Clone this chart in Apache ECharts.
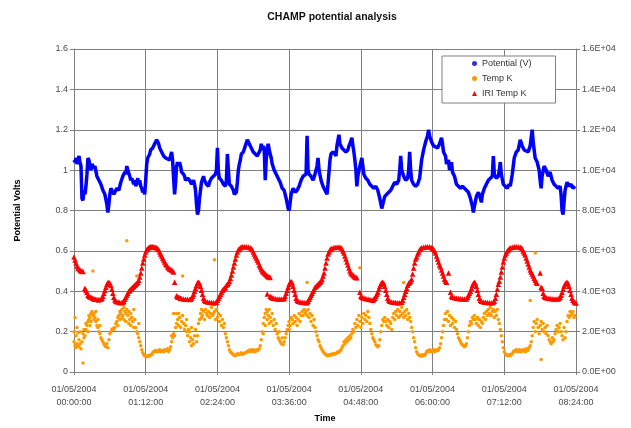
<!DOCTYPE html>
<html>
<head>
<meta charset="utf-8">
<script src="https://cdn.jsdelivr.net/npm/echarts@6/dist/echarts.min.js"></script>
<style>
html,body{margin:0;padding:0;background:#fff;}
#chart{width:631px;height:428px;}
</style>
</head>
<body>
<div id="chart"></div>
<script>
// ---- data (time in minutes from 01/05/2004 00:00:00) ----
var xTickLabels = ['01/05/2004\n00:00:00','01/05/2004\n01:12:00','01/05/2004\n02:24:00','01/05/2004\n03:36:00','01/05/2004\n04:48:00','01/05/2004\n06:00:00','01/05/2004\n07:12:00','01/05/2004\n08:24:00'];
var leftTickLabels = ['0','0.2','0.4','0.6','0.8','1','1.2','1.4','1.6'];
var rightTickLabels = ['0.0E+00','2.0E+03','4.0E+03','6.0E+03','8.0E+03','1.0E+04','1.2E+04','1.4E+04','1.6E+04'];
var seriesNames = ['Potential (V)','Temp K','IRI Temp K'];

var potentialV = [
[0,1.05],[1,1.04],[2,1.06],[3,1.03],[4,1.05],[5,1.07],[6,1.04],[7,1.02],[8,0.86],[9,0.85],[10,0.90],[11,0.88],[12,0.92],[13,0.98],[14,1.06],[15,1.05],[16,1.02],[17,1.00],[18,1.03],[19,1.02],[20,1.01],[21,1.02],[23,0.97],[25,0.95],[27,0.93],[29,0.90],[31,0.88],[33,0.83],[34,0.79],[35,0.83],[36,0.88],[37,0.91],[38,0.90],[40,0.88],[41,0.89],[43,0.91],[45,0.90],[47,0.94],[49,0.97],[51,0.99],[52,0.98],[53,1.02],[54,1.00],[56,0.97],[57,0.95],[58,0.96],[60,0.93],[61,0.95],[62,0.92],[64,0.96],[65,0.93],[66,0.95],[67,0.92],[68,0.91],[69,0.89],[70,0.90],[71,0.88],[72,0.95],[73,1.03],[74,1.06],[76,1.08],[77,1.10],[79,1.11],[81,1.13],[83,1.15],[85,1.13],[86,1.11],[88,1.09],[90,1.07],[92,1.06],[94,1.06],[96,1.05],[97,1.07],[98,1.09],[99,1.05],[100,0.96],[101,0.88],[102,0.94],[103,1.02],[104,1.04],[105,1.02],[106,1.04],[107,1.02],[108,0.99],[110,0.98],[111,0.97],[112,0.95],[114,0.96],[116,0.95],[118,0.93],[120,0.95],[121,0.93],[122,0.90],[123,0.83],[124,0.78],[125,0.80],[126,0.86],[127,0.90],[128,0.94],[130,0.97],[131,0.95],[133,0.93],[135,0.92],[136,0.94],[138,0.96],[140,0.96],[142,0.98],[143,1.00],[144,1.11],[145,0.99],[146,0.96],[148,0.95],[150,0.93],[152,0.92],[153,0.95],[154,1.08],[155,1.00],[156,0.93],[158,0.92],[160,0.90],[161,0.88],[163,0.89],[164,0.94],[165,1.00],[166,1.03],[167,1.05],[168,1.08],[170,1.09],[172,1.12],[174,1.15],[176,1.13],[178,1.11],[180,1.09],[182,1.08],[184,1.07],[186,1.07],[187,1.10],[188,1.13],[189,1.10],[190,1.12],[191,1.10],[192,0.95],[193,1.05],[194,1.11],[195,1.13],[196,1.10],[197,1.08],[198,1.06],[199,1.03],[201,1.00],[203,0.98],[205,0.96],[207,0.94],[209,0.91],[211,0.90],[213,0.86],[215,0.81],[216,0.80],[217,0.84],[218,0.88],[220,0.91],[222,0.89],[224,0.90],[226,0.92],[228,0.95],[230,0.97],[232,0.97],[233,0.98],[234,1.17],[235,1.00],[236,0.98],[238,0.97],[240,0.95],[242,0.98],[244,1.02],[245,1.06],[246,1.00],[248,0.95],[250,0.92],[252,0.90],[253,0.89],[254,0.88],[255,0.93],[256,0.99],[257,1.05],[258,1.08],[260,1.09],[262,1.08],[263,1.07],[264,1.12],[266,1.175],[267,1.13],[269,1.11],[271,1.10],[273,1.09],[275,1.10],[276,1.12],[277,1.13],[279,1.16],[280,1.12],[281,1.09],[282,1.05],[283,1.00],[284,0.92],[285,0.97],[287,1.02],[289,1.06],[290,1.02],[291,0.98],[293,0.96],[295,0.95],[297,0.93],[299,0.92],[301,0.91],[303,0.92],[305,0.90],[307,0.86],[309,0.81],[310,0.83],[312,0.87],[314,0.88],[316,0.89],[318,0.90],[320,0.92],[322,0.94],[324,0.93],[326,0.95],[327,1.00],[328,1.07],[329,1.00],[331,0.97],[333,0.95],[335,0.96],[336,1.00],[337,1.09],[338,1.00],[339,0.95],[341,0.93],[343,0.92],[345,0.93],[347,0.96],[349,1.05],[351,1.10],[353,1.14],[355,1.17],[356,1.20],[357,1.17],[359,1.14],[361,1.12],[363,1.12],[365,1.11],[367,1.13],[369,1.16],[370,1.13],[371,1.09],[373,1.07],[374,1.03],[376,1.05],[377,1.00],[379,1.04],[380,0.99],[382,0.97],[384,0.93],[386,0.92],[388,0.91],[390,0.92],[392,0.91],[394,0.90],[396,0.89],[398,0.86],[400,0.82],[401,0.79],[402,0.82],[404,0.87],[406,0.89],[408,0.86],[409,0.84],[410,0.88],[412,0.91],[414,0.93],[416,0.95],[418,0.95],[420,0.97],[421,1.07],[422,0.98],[424,0.96],[426,0.97],[427,1.00],[428,1.04],[429,0.98],[431,0.93],[433,0.92],[435,0.91],[437,0.93],[438,0.92],[440,0.98],[442,1.06],[444,1.09],[446,1.10],[448,1.15],[450,1.12],[452,1.10],[454,1.10],[456,1.09],[458,1.12],[460,1.20],[461,1.14],[462,1.10],[463,1.06],[465,1.04],[467,1.00],[468,0.95],[469,0.91],[470,0.97],[472,1.02],[474,1.00],[476,0.97],[478,0.99],[480,0.95],[482,0.93],[484,0.92],[486,0.91],[488,0.92],[489,0.88],[490,0.80],[491,0.78],[492,0.84],[493,0.90],[495,0.94],[497,0.92],[499,0.93],[501,0.91],[503,0.92]
];

var tempK = [
[0,1500],[0,2000],[1,1300],[1,2700],[2,1200],[2,1800],[3,1400],[3,2200],[4,1300],[4,1950],[5,1250],[5,1600],[6,1400],[6,2000],[7,1150],[8,1500],[9,440],[9,1900],[10,1700],[10,2100],[11,1800],[12,2100],[12,2400],[13,2300],[14,2500],[14,2000],[15,2600],[15,2800],[16,2700],[16,2300],[17,2900],[17,2500],[18,3000],[19,2800],[19,5000],[20,2900],[20,2600],[21,2700],[22,2500],[22,3000],[23,2300],[24,2200],[24,2600],[25,2000],[26,1900],[26,2300],[27,1700],[28,1600],[29,1500],[30,1400],[31,1300],[32,1250],[33,1400],[34,1200],[35,1600],[36,1900],[37,2000],[38,2100],[39,2150],[40,2100],[41,2200],[42,2400],[43,2500],[44,2700],[44,2300],[45,2800],[46,2600],[46,3000],[47,2900],[48,3100],[48,2700],[49,2800],[50,3200],[50,2600],[51,3000],[52,2900],[52,2500],[53,6500],[53,3100],[54,2800],[55,2400],[55,3000],[56,2600],[57,2900],[57,2300],[58,2700],[59,2500],[60,3100],[60,2200],[61,2600],[62,2200],[63,4750],[63,2000],[64,1900],[65,1700],[65,2400],[66,1500],[67,1300],[68,1100],[69,950],[70,850],[71,800],[72,780],[73,760],[74,800],[75,820],[76,780],[77,850],[78,880],[79,950],[80,1000],[81,1050],[82,1000],[83,1050],[84,1000],[85,1050],[86,1100],[87,1000],[88,1050],[89,1050],[90,1000],[91,1100],[92,1050],[93,1100],[94,1150],[95,1000],[96,1100],[97,1250],[98,1500],[98,1800],[99,1700],[100,1900],[100,2900],[101,1800],[102,2200],[103,2400],[103,2900],[104,2600],[105,2300],[105,2900],[106,2700],[107,2200],[108,2500],[109,4750],[109,2800],[110,2400],[111,2100],[112,2300],[113,2000],[113,2600],[114,1800],[115,2100],[116,1500],[116,2000],[117,1700],[118,1300],[118,2200],[119,1600],[120,1400],[121,1800],[122,2100],[123,1500],[124,1800],[125,2400],[126,2600],[127,2900],[128,2700],[128,3100],[129,2800],[130,3000],[131,2600],[132,3100],[133,2900],[134,2800],[135,3000],[136,2700],[137,2900],[138,3200],[139,2800],[140,2900],[141,5560],[141,3000],[142,2600],[143,3100],[144,2700],[145,2900],[146,2500],[147,2800],[148,2300],[149,2600],[150,2200],[151,2400],[152,1900],[153,1700],[154,1500],[155,1300],[156,1100],[157,1000],[158,950],[159,900],[160,850],[161,820],[162,800],[163,850],[164,900],[165,880],[166,850],[167,900],[168,950],[169,880],[170,900],[171,920],[172,950],[173,980],[174,1000],[175,1050],[176,1000],[177,1100],[178,1050],[179,1000],[180,1100],[181,1050],[182,1000],[183,1100],[184,1050],[185,1100],[186,1150],[187,1300],[188,1600],[189,2000],[190,2400],[190,1900],[191,2700],[192,2300],[192,2900],[193,3100],[194,2600],[194,3000],[195,2800],[196,2400],[196,3100],[197,2700],[198,2500],[199,2900],[200,2300],[201,2600],[202,2100],[203,2400],[204,1900],[205,1700],[206,1600],[206,2000],[207,1500],[208,1400],[209,1700],[210,1350],[211,1500],[212,1700],[213,1900],[214,2100],[215,2300],[216,2500],[216,2100],[217,2300],[218,2700],[219,2600],[220,2400],[221,2800],[222,2500],[223,2700],[224,2300],[225,2600],[226,2900],[227,2500],[228,2800],[229,3000],[230,2800],[231,3100],[232,2900],[233,3000],[234,4430],[234,2800],[235,3100],[236,2700],[237,2900],[238,2500],[239,2800],[240,2300],[241,2600],[242,2200],[243,2000],[244,1800],[245,1600],[246,1500],[247,1300],[248,1200],[249,1100],[250,1000],[251,950],[252,900],[253,850],[254,820],[255,800],[256,850],[257,820],[258,880],[259,850],[260,900],[261,870],[262,920],[263,900],[264,950],[265,1000],[266,980],[267,1050],[268,1100],[269,1200],[270,1300],[271,1500],[272,1400],[273,1600],[274,1500],[275,1700],[276,1600],[277,1800],[278,1700],[279,1900],[280,2100],[281,2000],[282,2400],[283,2200],[284,2600],[285,2300],[286,2800],[287,5160],[287,2500],[288,2200],[289,2700],[290,2400],[291,2900],[292,2600],[293,2800],[294,2500],[295,3000],[296,2700],[297,2400],[298,2100],[299,1900],[300,1700],[301,1600],[302,1500],[303,1350],[304,1300],[305,1250],[306,1300],[307,1600],[308,2000],[309,2300],[310,2600],[311,2500],[312,2700],[313,2500],[314,2300],[315,2600],[316,2200],[317,2500],[318,2400],[319,2100],[320,2700],[321,2900],[322,2600],[323,3000],[324,2800],[325,3100],[326,2700],[327,3000],[328,2800],[329,3200],[330,2900],[331,4430],[331,2700],[332,3000],[333,2800],[334,3100],[335,2600],[336,2900],[337,2700],[338,2500],[339,2200],[340,2000],[341,1700],[342,1500],[343,1200],[344,1000],[345,900],[346,850],[347,800],[348,820],[349,780],[350,850],[351,800],[352,830],[353,900],[354,1000],[355,1050],[356,1000],[357,1100],[358,1050],[359,1000],[360,1050],[361,1100],[362,1000],[363,1050],[364,1100],[365,1050],[366,1100],[367,1200],[368,1400],[369,1700],[370,2000],[371,2300],[372,2600],[373,2900],[374,2600],[375,3000],[376,2500],[377,2800],[378,2300],[379,2700],[380,2400],[381,2600],[382,2200],[383,2500],[384,2100],[385,1900],[386,1700],[387,1600],[388,1500],[389,1400],[390,1350],[391,1300],[392,1250],[393,1300],[394,1400],[395,1700],[396,2000],[397,2300],[398,2500],[399,2400],[400,2700],[401,2600],[402,2800],[403,2600],[404,2400],[405,2700],[406,2300],[407,2600],[408,2200],[409,2500],[410,2400],[411,2700],[412,2900],[413,2600],[414,3000],[415,2800],[416,3100],[417,2900],[418,3200],[419,2800],[420,3000],[421,3100],[422,2700],[423,3000],[424,2800],[425,3100],[426,2600],[427,2400],[428,2100],[429,1800],[430,1500],[431,1200],[432,1000],[433,900],[434,850],[435,800],[436,820],[437,850],[438,800],[439,880],[440,900],[441,1000],[442,1050],[443,1000],[444,1100],[445,1050],[446,1000],[447,1100],[448,1050],[449,1000],[450,1100],[451,1050],[452,1100],[453,1000],[454,1150],[455,1050],[456,1100],[457,1200],[458,3540],[458,1300],[459,1500],[460,1800],[461,2200],[462,2500],[463,5900],[463,2000],[464,2400],[465,2600],[466,2200],[467,1900],[468,2300],[469,620],[469,2500],[470,2100],[471,2400],[472,2000],[473,2200],[474,1900],[475,2300],[476,1800],[477,1600],[478,1500],[479,1400],[480,1700],[481,1500],[482,1600],[483,1900],[484,2100],[485,2300],[486,2000],[487,2200],[488,2400],[489,2000],[490,1800],[491,1600],[492,2200],[493,1700],[494,2000],[495,2500],[496,2800],[497,2700],[498,3000],[499,2800],[500,2900],[501,3000],[502,2700],[503,2800]
];

var iriTempK = [
[0,5700],[1,5550],[2,5400],[3,5250],[4,5150],[5,5100],[6,5050],[7,5000],[8,5000],[9,4980],
[11,4150],[12,4050],[13,3950],[14,3800],[15,3750],[16,3720],[17,3700],[18,3680],[19,3650],[20,3620],[21,3600],[22,3600],[24,3580],[25,3580],[27,3600],[28,3650],[29,3750],[30,3900],[31,4050],[32,4200],[33,4350],[34,4420],[35,4450],[36,4400],[37,4280],[38,4100],[39,3900],[40,3700],[41,3580],[42,3500],[43,3480],[45,3450],[46,3440],[48,3430],[49,3450],[50,3500],[51,3600],[52,3700],[53,3800],[54,3900],[55,4000],[56,4050],[57,4100],[58,4150],[59,4200],[60,4250],[61,4300],[62,4350],[63,4400],[64,4450],[65,4550],[66,4700],[67,4900],[68,5150],[69,5400],[70,5600],[71,5800],[72,5950],[73,6050],[74,6100],[75,6150],[76,6180],[77,6200],[78,6200],[79,6200],[80,6190],[81,6180],[82,6170],[83,6150],[84,6100],[85,6050],[86,5950],[87,5850],[88,5750],[89,5650],[90,5550],[91,5450],[92,5350],[93,5300],[94,5200],[95,5150],[96,5100],[97,5080],[98,5050],[99,5000],[100,4950],
[101,4450],
[103,3780],[104,3720],[105,3700],[106,3680],[107,3650],[108,3640],[110,3620],[112,3600],[114,3600],[116,3590],[117,3600],[118,3650],[119,3750],[120,3850],[121,4000],[122,4150],[123,4300],[124,4420],[125,4450],[126,4400],[127,4250],[128,4050],[129,3850],[130,3650],[131,3550],[132,3500],[134,3470],[136,3450],[138,3440],[140,3430],[142,3430],[143,3450],[144,3550],[145,3650],[146,3750],[147,3850],[148,3950],[149,4050],[150,4100],[151,4150],[152,4200],[153,4300],[154,4350],[155,4400],[156,4500],[157,4650],[158,4800],[159,5000],[160,5200],[161,5400],[162,5600],[163,5800],[164,5950],[165,6050],[166,6100],[167,6150],[168,6180],[169,6200],[171,6210],[173,6200],[175,6190],[177,6150],[178,6100],[179,6050],[180,5950],[181,5850],[182,5750],[183,5650],[184,5550],[185,5450],[186,5300],[187,5200],[188,5100],[189,5000],[190,4950],[191,4900],[192,4850],[193,4800],[194,4750],[195,4720],[196,4700],[197,4680],
[194,3860],
[197,3750],[198,3700],[199,3680],[200,3650],[202,3640],[204,3620],[206,3620],[208,3610],[210,3620],[211,3650],[212,3750],[213,3900],[214,4050],[215,4200],[216,4350],[217,4450],[218,4480],[219,4420],[220,4250],[221,4050],[222,3850],[223,3650],[224,3550],[225,3500],[227,3470],[229,3450],[231,3440],[233,3430],[234,3440],[235,3500],[236,3600],[237,3700],[238,3800],[239,3900],[240,4000],[241,4100],[242,4200],[243,4250],[244,4300],[245,4350],[246,4400],[247,4450],[248,4500],[249,4600],[250,4750],[251,4900],[252,5150],[253,5400],[254,5650],[255,5850],[256,5950],[257,6050],[258,6100],[259,6130],[261,6170],[263,6180],[265,6190],[267,6180],[268,6150],[269,6100],[270,6000],[271,5900],[272,5750],[273,5600],[274,5450],[275,5300],[276,5150],[277,5000],[278,4900],[279,4850],[280,4800],[281,4750],[282,4700],[283,4680],[284,4670],
[287,3950],
[288,3750],[289,3700],[290,3680],[292,3650],[294,3620],[296,3600],[298,3580],[300,3560],[301,3600],[302,3650],[303,3750],[304,3850],[305,3950],[306,4100],[307,4250],[308,4350],[309,4420],[310,4450],[311,4400],[312,4250],[313,4050],[314,3850],[315,3650],[316,3550],[317,3500],[319,3470],[321,3450],[323,3440],[325,3430],[327,3430],[329,3450],[330,3550],[331,3700],[332,3850],[333,4000],[334,4150],[335,4300],[336,4400],[337,4450],[338,4500],[339,4600],[340,4850],[341,5150],[342,5400],[343,5600],[344,5700],[345,5850],[346,5950],[347,6050],[348,6100],[349,6150],[351,6180],[353,6200],[355,6210],[357,6200],[359,6170],[360,6130],[361,6080],[362,6000],[363,5900],[364,5750],[365,5600],[366,5450],[367,5300],[368,5200],[369,5050],[370,4900],[371,4750],[372,4600],[373,4500],[374,4450],
[376,4900],
[378,3950],[379,3750],[380,3700],[382,3680],[384,3650],[386,3640],[388,3630],[390,3620],[392,3620],[394,3620],[395,3700],[396,3800],[397,3900],[398,4000],[399,4150],[400,4300],[401,4400],[402,4450],[403,4400],[404,4250],[405,4050],[406,3850],[407,3650],[408,3550],[409,3500],[411,3470],[413,3450],[415,3440],[417,3430],[419,3430],[421,3440],[422,3500],[423,3650],[424,3850],[425,4100],[426,4350],[427,4500],[428,4700],[429,4950],[430,5200],[431,5450],[432,5650],[433,5800],[434,5900],[435,6000],[436,6050],[437,6100],[438,6150],[440,6180],[442,6200],[444,6210],[446,6200],[448,6180],[449,6150],[450,6100],[451,6000],[452,5900],[453,5800],[454,5650],[455,5500],[456,5350],[457,5200],[458,5050],[459,4950],[460,4850],[461,4750],[462,4650],[463,4550],[464,4450],[465,4400],
[468,4900],
[469,4200],[470,4150],[471,3900],[472,3750],[473,3700],[474,3680],[476,3650],[478,3640],[480,3630],[482,3620],[484,3620],[486,3620],[487,3650],[488,3700],[489,3800],[490,3950],[491,4100],[492,4250],[493,4350],[494,4420],[495,4450],[496,4400],[497,4250],[498,4050],[499,3850],[500,3650],[501,3550],[502,3480],[503,3440],[504,3420]
];

var chart = echarts.init(document.getElementById('chart'), null, {renderer:'canvas'});
var FONT = 'Liberation Sans, Arial, sans-serif';
var labelColor = '#4a4a4a';
var gridColor = '#7f7f7f';

var option = {
  backgroundColor: '#ffffff',
  animation: false,
  title: {
    text: 'CHAMP potential analysis',
    left: 327, top: 7, textAlign: 'center',
    textStyle: {fontFamily: FONT, fontSize: 10.5, fontWeight: 'bold', color: '#111'}
  },
  legend: {
    orient: 'vertical',
    left: 442, top: 56,
    padding: [3, 24, 5, 30],
    itemGap: 6,
    itemWidth: 5, itemHeight: 5,
    itemTextGap: 3,
    backgroundColor: '#ffffff',
    borderColor: '#808080', borderWidth: 1,
    textStyle: {fontFamily: FONT, fontSize: 9, color: '#333'},
    data: [
      {name: seriesNames[0], icon: 'circle', itemStyle: {color: '#3333cc'}},
      {name: seriesNames[1], icon: 'circle', itemStyle: {color: '#ff9900'}},
      {name: seriesNames[2], icon: 'triangle', itemStyle: {color: '#ff0000'}}
    ]
  },
  grid: {left: 74, right: 55, top: 49, bottom: 51, containLabel: false},
  xAxis: {
    type: 'value', min: 0, max: 504, interval: 72,
    name: 'Time', nameLocation: 'middle', nameGap: 42,
    nameTextStyle: {fontFamily: FONT, fontSize: 9, fontWeight: 'bold', color: '#000'},
    axisLine: {show: true, lineStyle: {color: gridColor, width: 1}},
    axisTick: {show: true, length: 3, lineStyle: {color: gridColor}},
    axisLabel: {
      fontFamily: FONT, fontSize: 9, color: labelColor, margin: 11, lineHeight: 13,
      formatter: function (v) { return xTickLabels[Math.round(v / 72)]; }
    },
    splitLine: {show: true, lineStyle: {color: gridColor, width: 1}}
  },
  yAxis: [
    {
      type: 'value', min: 0, max: 1.6, interval: 0.2,
      name: 'Potential Volts', nameLocation: 'middle', nameGap: 52, nameRotate: 90,
      nameTextStyle: {fontFamily: FONT, fontSize: 9, fontWeight: 'bold', color: '#000'},
      axisLine: {show: true, lineStyle: {color: gridColor, width: 1}},
      axisTick: {show: true, length: 4, lineStyle: {color: gridColor}},
      axisLabel: {
        fontFamily: FONT, fontSize: 9, color: labelColor, margin: 6,
        formatter: function (v) { return leftTickLabels[Math.round(v / 0.2)]; }
      },
      splitLine: {show: true, lineStyle: {color: gridColor, width: 1}}
    },
    {
      type: 'value', min: 0, max: 16000, interval: 2000, position: 'right',
      axisLine: {show: true, lineStyle: {color: gridColor, width: 1}},
      axisTick: {show: true, length: 4, lineStyle: {color: gridColor}},
      axisLabel: {
        fontFamily: FONT, fontSize: 9, color: labelColor, margin: 6,
        formatter: function (v) { return rightTickLabels[Math.round(v / 2000)]; }
      },
      splitLine: {show: false}
    }
  ],
  series: [
    {
      name: seriesNames[1], type: 'scatter', yAxisIndex: 1,
      symbol: 'circle', symbolSize: 3.5,
      itemStyle: {color: '#ff9900', opacity: 1},
      data: tempK, z: 2
    },
    {
      name: seriesNames[2], type: 'scatter', yAxisIndex: 1,
      symbol: 'triangle', symbolSize: 5.5,
      itemStyle: {color: '#ff0000', opacity: 1},
      data: iriTempK, z: 3
    },
    {
      name: seriesNames[0], type: 'line', yAxisIndex: 0,
      showSymbol: false, symbol: 'circle',
      lineStyle: {color: '#0000ff', width: 3.5},
      itemStyle: {color: '#0000ff'},
      data: potentialV, z: 4
    }
  ]
};
chart.setOption(option);
</script>
</body>
</html>
